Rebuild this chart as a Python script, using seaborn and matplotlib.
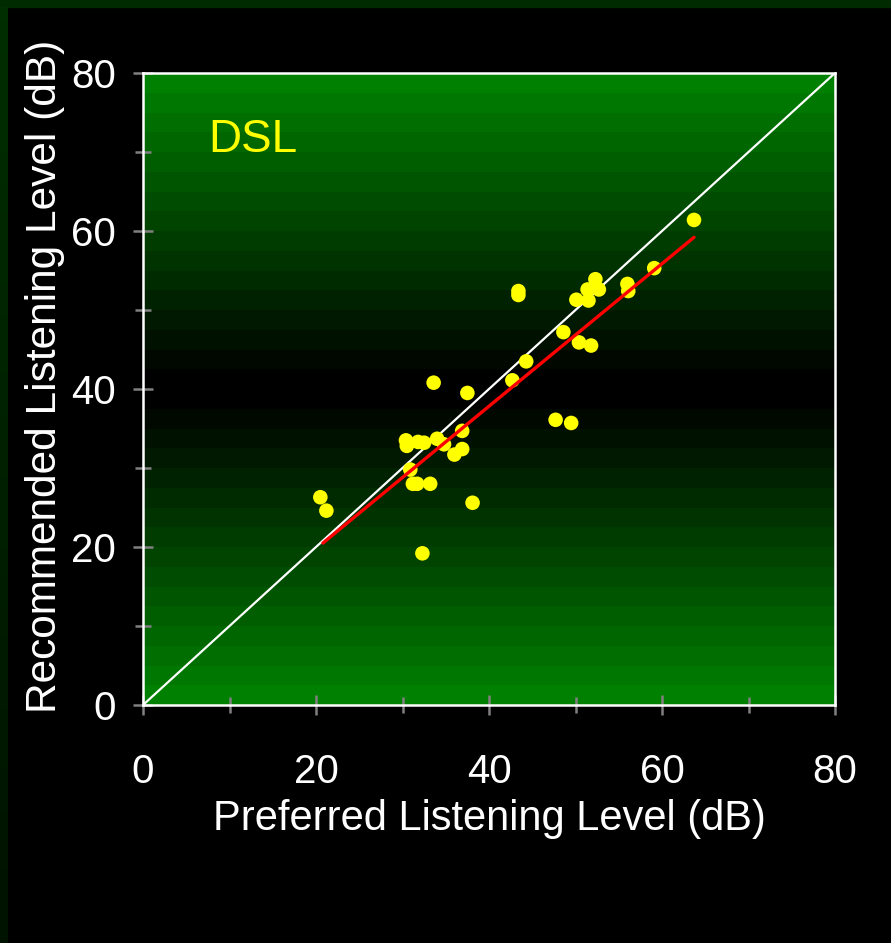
import numpy as np
import pandas as pd
import matplotlib
matplotlib.use("Agg")
import matplotlib.pyplot as plt
import seaborn as sns
from matplotlib.ticker import MultipleLocator
from matplotlib.patches import Rectangle

# Preferred vs. recommended listening levels (dB), DSL prescription
preferred = [20.5, 21.2, 32.3, 33.6, 37.5, 30.4, 30.5, 31.8, 32.5, 34.0,
             34.8, 36.9, 36.9, 36.0, 30.9, 31.2, 31.7, 33.2, 38.1, 47.7,
             49.5, 42.7, 44.3, 50.4, 51.8, 43.4, 43.4, 59.1, 56.0, 56.1,
             52.3, 51.4, 52.7, 50.1, 51.5, 48.6, 63.7]
recommended = [26.3, 24.6, 19.2, 40.8, 39.5, 33.5, 32.8, 33.3, 33.2, 33.7,
               33.0, 34.7, 32.4, 31.7, 29.8, 28.0, 28.0, 28.0, 25.6, 36.1,
               35.7, 41.1, 43.5, 45.9, 45.5, 52.4, 51.9, 55.3, 53.3, 52.4,
               53.9, 52.6, 52.6, 51.3, 51.2, 47.2, 61.4]

# Regression line end points and the identity line
fit_x = [20.8, 63.7]
fit_y = [20.5, 59.2]
diag = [0, 80]

points = pd.DataFrame({"preferred": preferred, "recommended": recommended})

sns.set_theme(style="white")
plt.rcParams["font.family"] = ["Liberation Sans", "DejaVu Sans"]

W, H = 891, 943
fig = plt.figure(figsize=(W / 100, H / 100), dpi=100, facecolor="black")

# Dark green frame along the top and left edges
fig.add_artist(Rectangle((0, 1 - 7 / H), 1, 7 / H, transform=fig.transFigure,
                         color="#002b00", zorder=0))
edge = fig.add_axes([0, 0, 8 / W, 1 - 7 / H])
shade = np.linspace(0x12, 0x2e, 64) / 255
strip = np.zeros((64, 1, 3))
strip[..., 1] = shade[:, None]
edge.imshow(strip, origin="lower", aspect="auto", extent=[0, 1, 0, 1])
edge.axis("off")

ax = fig.add_axes([143 / W, 238 / H, 692 / W, 632 / H])

# Banded green background, black around the middle
n_bands = 32
centers = (np.arange(n_bands) + 0.5) * 80 / n_bands
level = (np.abs(centers - 40) - 1.25) / 37.5
bg = np.zeros((n_bands, 1, 3))
bg[..., 1] = level[:, None] * 128 / 255
ax.imshow(bg, extent=[0, 80, 0, 80], origin="lower", aspect="auto",
          interpolation="nearest", zorder=0)

sns.lineplot(x=diag, y=diag, color="white", linewidth=1.6, ax=ax, zorder=2)
sns.scatterplot(data=points, x="preferred", y="recommended", color="#ffff00",
                s=110, edgecolor="none", linewidth=0, ax=ax, zorder=3)
sns.lineplot(x=fit_x, y=fit_y, color="#ff0000", linewidth=2.4, ax=ax, zorder=4)

ax.text(7.5, 70, "DSL", color="#ffff00", fontsize=33, ha="left", va="baseline")

ax.set_xlim(0, 80)
ax.set_ylim(0, 80)
ax.xaxis.set_major_locator(MultipleLocator(20))
ax.yaxis.set_major_locator(MultipleLocator(20))
ax.xaxis.set_minor_locator(MultipleLocator(10))
ax.yaxis.set_minor_locator(MultipleLocator(10))
ax.tick_params(which="both", bottom=True, left=True, top=False, right=False)
ax.tick_params(which="major", direction="inout", length=15, width=1.8,
               color="#808080", labelcolor="white", labelsize=29)
ax.tick_params(which="minor", direction="inout", length=11, width=1.8,
               color="#808080")
ax.tick_params(axis="x", which="major", pad=27)
ax.tick_params(axis="y", which="major", pad=12)
for side in ax.spines.values():
    side.set_color("white")
    side.set_linewidth(1.8)

ax.set_xlabel("Preferred Listening Level (dB)", color="white", fontsize=30, labelpad=6)
ax.set_ylabel("Recommended Listening Level (dB)", color="white", fontsize=30.5,
              labelpad=4, y=0.52, ha="center")

fig.savefig("out.png", dpi=100, facecolor=fig.get_facecolor())
